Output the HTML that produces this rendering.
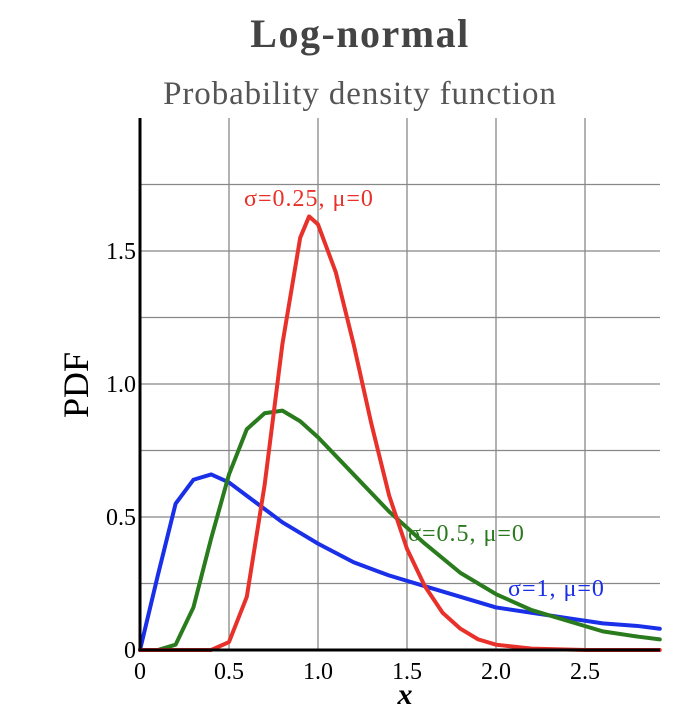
<!DOCTYPE html>
<html><head><meta charset="utf-8"><style>
body{margin:0;background:#fff;width:698px;height:722px;overflow:hidden}
text{font-family:"Liberation Serif",serif}
</style></head><body>
<svg id="chart" width="698" height="722" xmlns="http://www.w3.org/2000/svg">
<text x="360" y="47" text-anchor="middle" font-size="40" font-weight="bold" letter-spacing="1.5" fill="#444">Log-normal</text>
<text x="360" y="104" text-anchor="middle" font-size="33" letter-spacing="0.9" fill="#555">Probability density function</text>
<g id="grid"></g>
<g id="series"></g>
<g id="axes"></g>
<text transform="translate(88,385) rotate(-90)" text-anchor="middle" font-size="36">PDF</text>
<text x="405" y="704" text-anchor="middle" font-size="30" font-style="italic" font-weight="bold">x</text>
<text x="244" y="206" font-size="24" letter-spacing="1" fill="#e8312a">σ=0.25, μ=0</text>
<text x="408" y="541" font-size="24" letter-spacing="1" fill="#2a7a1e">σ=0.5, μ=0</text>
<text x="508" y="596" font-size="24" letter-spacing="1" fill="#1a2fe8">σ=1, μ=0</text>
</svg>
<script>
const xTicks=[0,0.5,1.0,1.5,2.0,2.5];
const xTickLabels=["0","0.5","1.0","1.5","2.0","2.5"];
const yTicks=[0,0.5,1.0,1.5];
const yTickLabels=["0","0.5","1.0","1.5"];
const yGrid=[0.25,0.5,0.75,1.0,1.25,1.5,1.75];
const xs1=[0,0.1,0.2,0.3,0.4,0.5,0.6,0.7,0.8,0.9,1.0,1.2,1.4,1.6,1.8,2.0,2.2,2.4,2.6,2.8,2.92];
const ys1=[0,0.28,0.55,0.64,0.66,0.63,0.58,0.53,0.48,0.44,0.40,0.33,0.28,0.24,0.20,0.16,0.14,0.12,0.10,0.09,0.08];
const xs2=[0,0.1,0.2,0.3,0.4,0.5,0.6,0.7,0.8,0.9,1.0,1.2,1.4,1.6,1.8,2.0,2.2,2.4,2.6,2.8,2.92];
const ys2=[0,0,0.02,0.16,0.42,0.66,0.83,0.89,0.90,0.86,0.80,0.66,0.52,0.40,0.29,0.21,0.15,0.11,0.07,0.05,0.04];
const xs3=[0,0.4,0.5,0.6,0.7,0.8,0.9,0.95,1.0,1.1,1.2,1.3,1.4,1.5,1.6,1.7,1.8,1.9,2.0,2.2,2.5,2.92];
const ys3=[0,0,0.03,0.2,0.62,1.15,1.55,1.63,1.6,1.42,1.15,0.85,0.58,0.38,0.24,0.14,0.08,0.04,0.02,0.005,0,0];
const X0=140,XS=178,Y0=650,YS=266,XR=660,YT=118;
const sx=v=>X0+v*XS, sy=v=>Y0-v*YS;
const NS="http://www.w3.org/2000/svg";
function mk(tag,parent,attrs){const e=document.createElementNS(NS,tag);for(const k in attrs)e.setAttribute(k,attrs[k]);parent.appendChild(e);return e;}
const grid=document.getElementById('grid'),axes=document.getElementById('axes'),series=document.getElementById('series');
xTicks.forEach((t,i)=>{
 if(t>0){const l=mk('line',grid,{x1:sx(t),x2:sx(t),y1:YT,y2:Y0,stroke:'#888','stroke-width':1.3});
 
 }
 const tx=mk('text',axes,{x:sx(t),y:Y0+29,'text-anchor':'middle','font-size':24});
 tx.textContent=xTickLabels[i];
 
 
});
yGrid.forEach(t=>{const l=mk('line',grid,{x1:X0,x2:XR,y1:sy(t),y2:sy(t),stroke:'#888','stroke-width':1.3});
 
 });
yTicks.forEach((t,i)=>{const tx=mk('text',axes,{x:X0-4,y:sy(t)+8,'text-anchor':'end','font-size':24});
 tx.textContent=yTickLabels[i];
 
 });
function line(xs,ys,c,name){const p=mk('polyline',series,{points:xs.map((x,i)=>sx(x)+','+sy(ys[i])).join(' '),fill:'none',stroke:c,'stroke-width':4,'stroke-linejoin':'round','stroke-linecap':'round'});
 
 }
line(xs1,ys1,'#1a2fe8','line-sigma-1');
line(xs2,ys2,'#2a7a1e','line-sigma-0.5');
line(xs3,ys3,'#e8312a','line-sigma-0.25');
const ya=mk('line',axes,{x1:X0,x2:X0,y1:YT,y2:Y0+1,stroke:'#000','stroke-width':3});


const xa=mk('line',axes,{x1:X0-1,x2:XR,y1:Y0,y2:Y0,stroke:'#000','stroke-width':3});


</script>
</body></html>
